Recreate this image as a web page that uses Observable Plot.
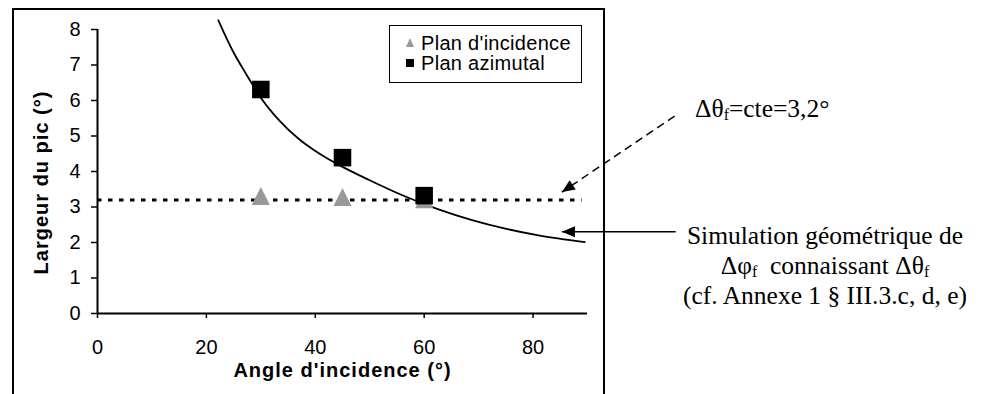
<!DOCTYPE html>
<html>
<head>
<meta charset="utf-8">
<script src="https://cdn.jsdelivr.net/npm/d3@7"></script>
<script src="https://cdn.jsdelivr.net/npm/@observablehq/plot@0.6"></script>
<style>
  html, body { margin: 0; padding: 0; background: #fff; }
  #wrap { position: relative; width: 991px; height: 394px; overflow: hidden; background: #fff; }
  #chart svg { position: absolute; left: 0; top: 0; background: transparent !important; }
  #frame { position: absolute; left: 12px; top: 8px; width: 593px; height: 420px; border: 2px solid #000; box-sizing: border-box; pointer-events: none; }
  #legend { position: absolute; left: 389px; top: 25px; width: 193px; height: 58px; border: 1.5px solid #000; box-sizing: border-box; background: #fff;
            font-family: "Liberation Sans", Arial, sans-serif; font-size: 20px; color: #000; }
  #legend .lbl { position: absolute; left: 31px; line-height: 22px; white-space: nowrap; letter-spacing: 0.3px; }
  #legend .tri { position: absolute; left: 16px; width: 0; height: 0; border-left: 4px solid transparent; border-right: 4px solid transparent; border-bottom: 9px solid #999; }
  #legend .sq { position: absolute; left: 16px; width: 8px; height: 8px; background: #000; }
  .ann { position: absolute; font-family: "Liberation Serif", "Times New Roman", serif; font-size: 25.5px; line-height: 30px; color: #000; white-space: nowrap; }
  .ann sub { font-size: 0.62em; vertical-align: -0.18em; line-height: 0; }
</style>
</head>
<body>
<div id="wrap">
  <div id="chart"></div>
  <div id="legend">
    <span class="tri" style="top:12px"></span><span class="lbl" style="top:6px">Plan d'incidence</span>
    <span class="sq" style="top:33px"></span><span class="lbl" style="top:26px">Plan azimutal</span>
  </div>
  <div class="ann" style="left:695px; top:94px;">Δθ<sub>f</sub>=cte=3,2°</div>
  <div class="ann" style="left:665px; top:221px; width:320px; text-align:center;">Simulation géométrique de<br>Δφ<sub>f</sub>&nbsp; connaissant Δθ<sub>f</sub><br>(cf. Annexe 1 § III.3.c, d, e)</div>
  <div id="frame"></div>
</div>
<script>
// ---- data ----
const angles = [30, 45, 60];
const incidenceValues = [3.31, 3.28, 3.22];   // Plan d'incidence (triangles)
const azimutalValues = [6.31, 4.39, 3.32];    // Plan azimutal (squares)
const simAngles = [22.2, 24.9, 27.4, 28.3, 30, 33.5, 37.1, 39.6, 42.3, 44.4, 49.9, 56, 62.5, 68.8, 74.9, 81, 89.5];
const simValues = [8.26, 7.38, 6.72, 6.49, 6.08, 5.42, 4.90, 4.62, 4.36, 4.18, 3.76, 3.33, 2.94, 2.63, 2.39, 2.20, 2.01];
const constValue = 3.2;                       // Δθf = cte = 3,2°
const constRange = [0, 89];
const xTicks = [0, 20, 40, 60, 80];
const yTicks = [0, 1, 2, 3, 4, 5, 6, 7, 8];
const xLabel = "Angle d'incidence (°)";
const yLabel = "Largeur du pic (°)";
// annotation arrows (in data units, outside the plot frame)
const arrowDashed = {x1: 106, y1: 5.56, x2: 85.3, y2: 3.42};
const arrowSolid = {x1: 106.2, y1: 2.30, x2: 85.3, y2: 2.30};

// ---- layout ----
const W = 991, H = 394, mL = 97, mR = 404, mT = 29, mB = 81;
const pxPerX = (W - mL - mR) / 90, pxPerY = (H - mT - mB) / 8;

const incidence = angles.map((a, i) => ({x: a, y: incidenceValues[i]}));
const azimutal = angles.map((a, i) => ({x: a, y: azimutalValues[i]}));

// triangle centred on its bounding box (like spreadsheet markers)
const triSym = {draw(ctx, size) { const k = Math.sqrt(size) / 2; ctx.moveTo(0, -k); ctx.lineTo(k, k); ctx.lineTo(-k, k); ctx.closePath(); }};
const sqSym = {draw(ctx, size) { const k = Math.sqrt(size) / 2; ctx.rect(-k, -k, 2 * k, 2 * k); }};
function headSym(a) {
  // filled arrowhead with tip at origin, pointing along the arrow direction (screen space)
  let dx = (a.x2 - a.x1) * pxPerX, dy = -(a.y2 - a.y1) * pxPerY;
  const n = Math.hypot(dx, dy); dx /= n; dy /= n;
  const L = 13, w = 5.5;
  return {draw(ctx) {
    const bx = -dx * L, by = -dy * L;
    ctx.moveTo(0, 0);
    ctx.lineTo(bx - dy * w, by + dx * w);
    ctx.lineTo(bx + dy * w, by - dx * w);
    ctx.closePath();
  }};
}

const plot = Plot.plot({
  width: W, height: H,
  marginLeft: mL, marginRight: mR, marginTop: mT, marginBottom: mB,
  x: {domain: [0, 90]},
  y: {domain: [0, 8]},
  style: {fontFamily: "'Liberation Sans', Arial, sans-serif", fontSize: "20px", color: "#000", background: "transparent"},
  marks: [
    Plot.axisX({ticks: xTicks, tickSize: 5, tickPadding: 21, label: null, strokeWidth: 1.5}),
    Plot.axisY({ticks: yTicks, tickSize: 6, tickPadding: 11, label: null, strokeWidth: 1.5}),
    Plot.ruleY([0], {x1: 0, x2: 90, strokeWidth: 2}),
    Plot.ruleX([0], {y1: 0, y2: 8, strokeWidth: 2}),
    Plot.line(simAngles, {x: simAngles, y: simValues, stroke: "#000", strokeWidth: 1.8, curve: "monotone-x"}),
    Plot.ruleY([constValue], {x1: constRange[0], x2: constRange[1], stroke: "#000", strokeWidth: 3, strokeDasharray: "4.5,6.5"}),
    Plot.dot(incidence, {x: "x", y: "y", symbol: triSym, r: 10.2, fill: "#999999", stroke: "none"}),
    Plot.dot(azimutal, {x: "x", y: "y", symbol: sqSym, r: 9.9, fill: "#000", stroke: "none"}),
    Plot.link([arrowDashed], {x1: "x1", y1: "y1", x2: "x2", y2: "y2", stroke: "#000", strokeWidth: 1.5, strokeDasharray: "8,5"}),
    Plot.link([arrowSolid], {x1: "x1", y1: "y1", x2: "x2", y2: "y2", stroke: "#000", strokeWidth: 1.5}),
    Plot.dot([arrowDashed], {x: "x2", y: "y2", symbol: headSym(arrowDashed), fill: "#000", stroke: "none"}),
    Plot.dot([arrowSolid], {x: "x2", y: "y2", symbol: headSym(arrowSolid), fill: "#000", stroke: "none"}),
    Plot.text([yLabel], {frameAnchor: "left", dx: -56, dy: 11, rotate: -90, textAnchor: "middle", fontWeight: "bold", fontSize: 20}),
    Plot.text([xLabel], {frameAnchor: "bottom", dy: 63, textAnchor: "middle", fontWeight: "bold", fontSize: 20})
  ]
});
d3.select(plot).selectAll("text").filter(function() { return this.textContent === xLabel || this.textContent === yLabel; })
  .style("letter-spacing", "1px");
document.getElementById("chart").appendChild(plot);
</script>
</body>
</html>
